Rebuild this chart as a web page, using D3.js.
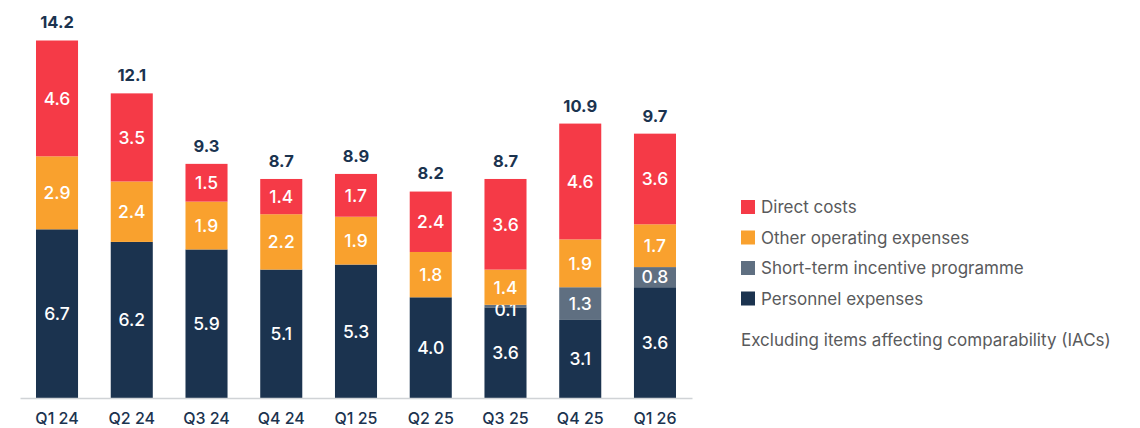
<!DOCTYPE html>
<html>
<head>
<meta charset="utf-8">
<script src="https://cdn.jsdelivr.net/npm/d3@7"></script>
<style>
  body { margin: 0; background: #fff; }
  svg { display: block; font-family: Inter, Roboto, "Noto Sans", sans-serif; }
</style>
</head>
<body>
<script>
// quarters on the x axis
var quarters = ["Q1 24", "Q2 24", "Q3 24", "Q4 24", "Q1 25", "Q2 25", "Q3 25", "Q4 25", "Q1 26"];

// stacked series, bottom to top (bar heights as drawn)
// note: the Q1 26 personnel bar is drawn taller (~4.4) than its 3.6 label in the source
var personnel = [6.7, 6.2, 5.9, 5.1, 5.3, 4.0, 3.6, 3.1, 4.4];
var incentive = [0, 0, 0, 0, 0, 0, 0.1, 1.3, 0.8];
var otherOpex = [2.9, 2.4, 1.9, 2.2, 1.9, 1.8, 1.4, 1.9, 1.7];
var directCosts = [4.6, 3.5, 1.5, 1.4, 1.7, 2.4, 3.6, 4.6, 3.6];

// printed labels
var personnelLabels = [6.7, 6.2, 5.9, 5.1, 5.3, 4.0, 3.6, 3.1, 3.6];
var totals = [14.2, 12.1, 9.3, 8.7, 8.9, 8.2, 8.7, 10.9, 9.7];

var seriesNames = ["Personnel expenses", "Short-term incentive programme", "Other operating expenses", "Direct costs"];
var footnote = "Excluding items affecting comparability (IACs)";

var width = 1140, height = 428;
var colors = {
  "Personnel expenses": "#1b334f",
  "Short-term incentive programme": "#5f6f81",
  "Other operating expenses": "#f9a12e",
  "Direct costs": "#f53a47"
};

var svg = d3.select("body").append("svg")
  .attr("width", width)
  .attr("height", height);

var x = d3.scaleBand()
  .domain(quarters)
  .range([20, 692])
  .paddingInner(0.4375)
  .paddingOuter(0.214);

var y = d3.scaleLinear()
  .domain([0, 14.2])
  .range([398, 40.5]);

var rows = quarters.map(function (q, i) {
  return {
    q: q,
    i: i,
    "Personnel expenses": personnel[i],
    "Short-term incentive programme": incentive[i],
    "Other operating expenses": otherOpex[i],
    "Direct costs": directCosts[i]
  };
});

var stack = d3.stack().keys(seriesNames)(rows);

var layer = svg.selectAll("g.layer")
  .data(stack)
  .enter()
  .append("g")
  .attr("class", "layer")
  .attr("fill", d => colors[d.key]);

layer.selectAll("rect")
  .data(d => d)
  .enter()
  .filter(d => d[1] - d[0] > 0)
  .append("rect")
  .attr("x", d => x(d.data.q))
  .attr("width", x.bandwidth())
  .attr("y", d => y(d[1]))
  .attr("height", d => y(d[0]) - y(d[1]));

// segment labels
layer.each(function (s) {
  d3.select(this).selectAll("text")
    .data(s.filter(d => d[1] - d[0] > 0))
    .enter()
    .append("text")
    .attr("x", d => x(d.data.q) + x.bandwidth() / 2)
    .attr("y", function (d) {
      var mid = (y(d[0]) + y(d[1])) / 2;
      // tiny slice: nudge label down a bit like the original
      if (y(d[0]) - y(d[1]) < 8) mid += 4;
      return mid;
    })
    .attr("dy", "0.36em")
    .attr("text-anchor", "middle")
    .attr("fill", "#fff")
    .style("font-size", "17.5px")
    .style("font-weight", 500)
    .text(function (d) {
      var v = s.key === "Personnel expenses" ? personnelLabels[d.data.i] : d[1] - d[0];
      return d3.format(".1f")(v);
    });
});

// totals on top
svg.selectAll("text.total")
  .data(totals)
  .enter()
  .append("text")
  .attr("class", "total")
  .attr("x", (d, i) => x(quarters[i]) + x.bandwidth() / 2)
  .attr("y", (d, i) => y(personnel[i] + incentive[i] + otherOpex[i] + directCosts[i]) - 18)
  .attr("dy", "0.36em")
  .attr("text-anchor", "middle")
  .attr("fill", "#1b334f")
  .style("font-size", "16.5px")
  .style("font-weight", 700)
  .text(d => d3.format(".1f")(d));

// x axis
var xAxis = svg.append("g")
  .attr("transform", "translate(0,398)")
  .call(d3.axisBottom(x).tickSize(0).tickPadding(15));

xAxis.select(".domain")
  .attr("stroke", "#d0d3d6")
  .attr("stroke-width", 1.5);

xAxis.selectAll("text")
  .attr("fill", "#1b334f")
  .style("font-size", "16px")
  .style("font-weight", 500)
  .style("font-family", "Inter, Roboto, sans-serif");

// legend
var legendNames = seriesNames.slice().reverse();
var legend = svg.append("g")
  .attr("transform", "translate(741,0)");

var item = legend.selectAll("g")
  .data(legendNames)
  .enter()
  .append("g")
  .attr("transform", (d, i) => "translate(0," + (207 + i * 30.5) + ")");

item.append("rect")
  .attr("x", 0)
  .attr("y", -7)
  .attr("width", 14)
  .attr("height", 14)
  .attr("fill", d => colors[d]);

item.append("text")
  .attr("x", 20)
  .attr("dy", "0.36em")
  .attr("fill", "#595a5c")
  .style("font-size", "17px")
  .text(d => d);

legend.append("text")
  .attr("x", 0)
  .attr("y", 340)
  .attr("dy", "0.36em")
  .attr("fill", "#595a5c")
  .style("font-size", "17px")
  .text(footnote);
</script>
</body>
</html>
